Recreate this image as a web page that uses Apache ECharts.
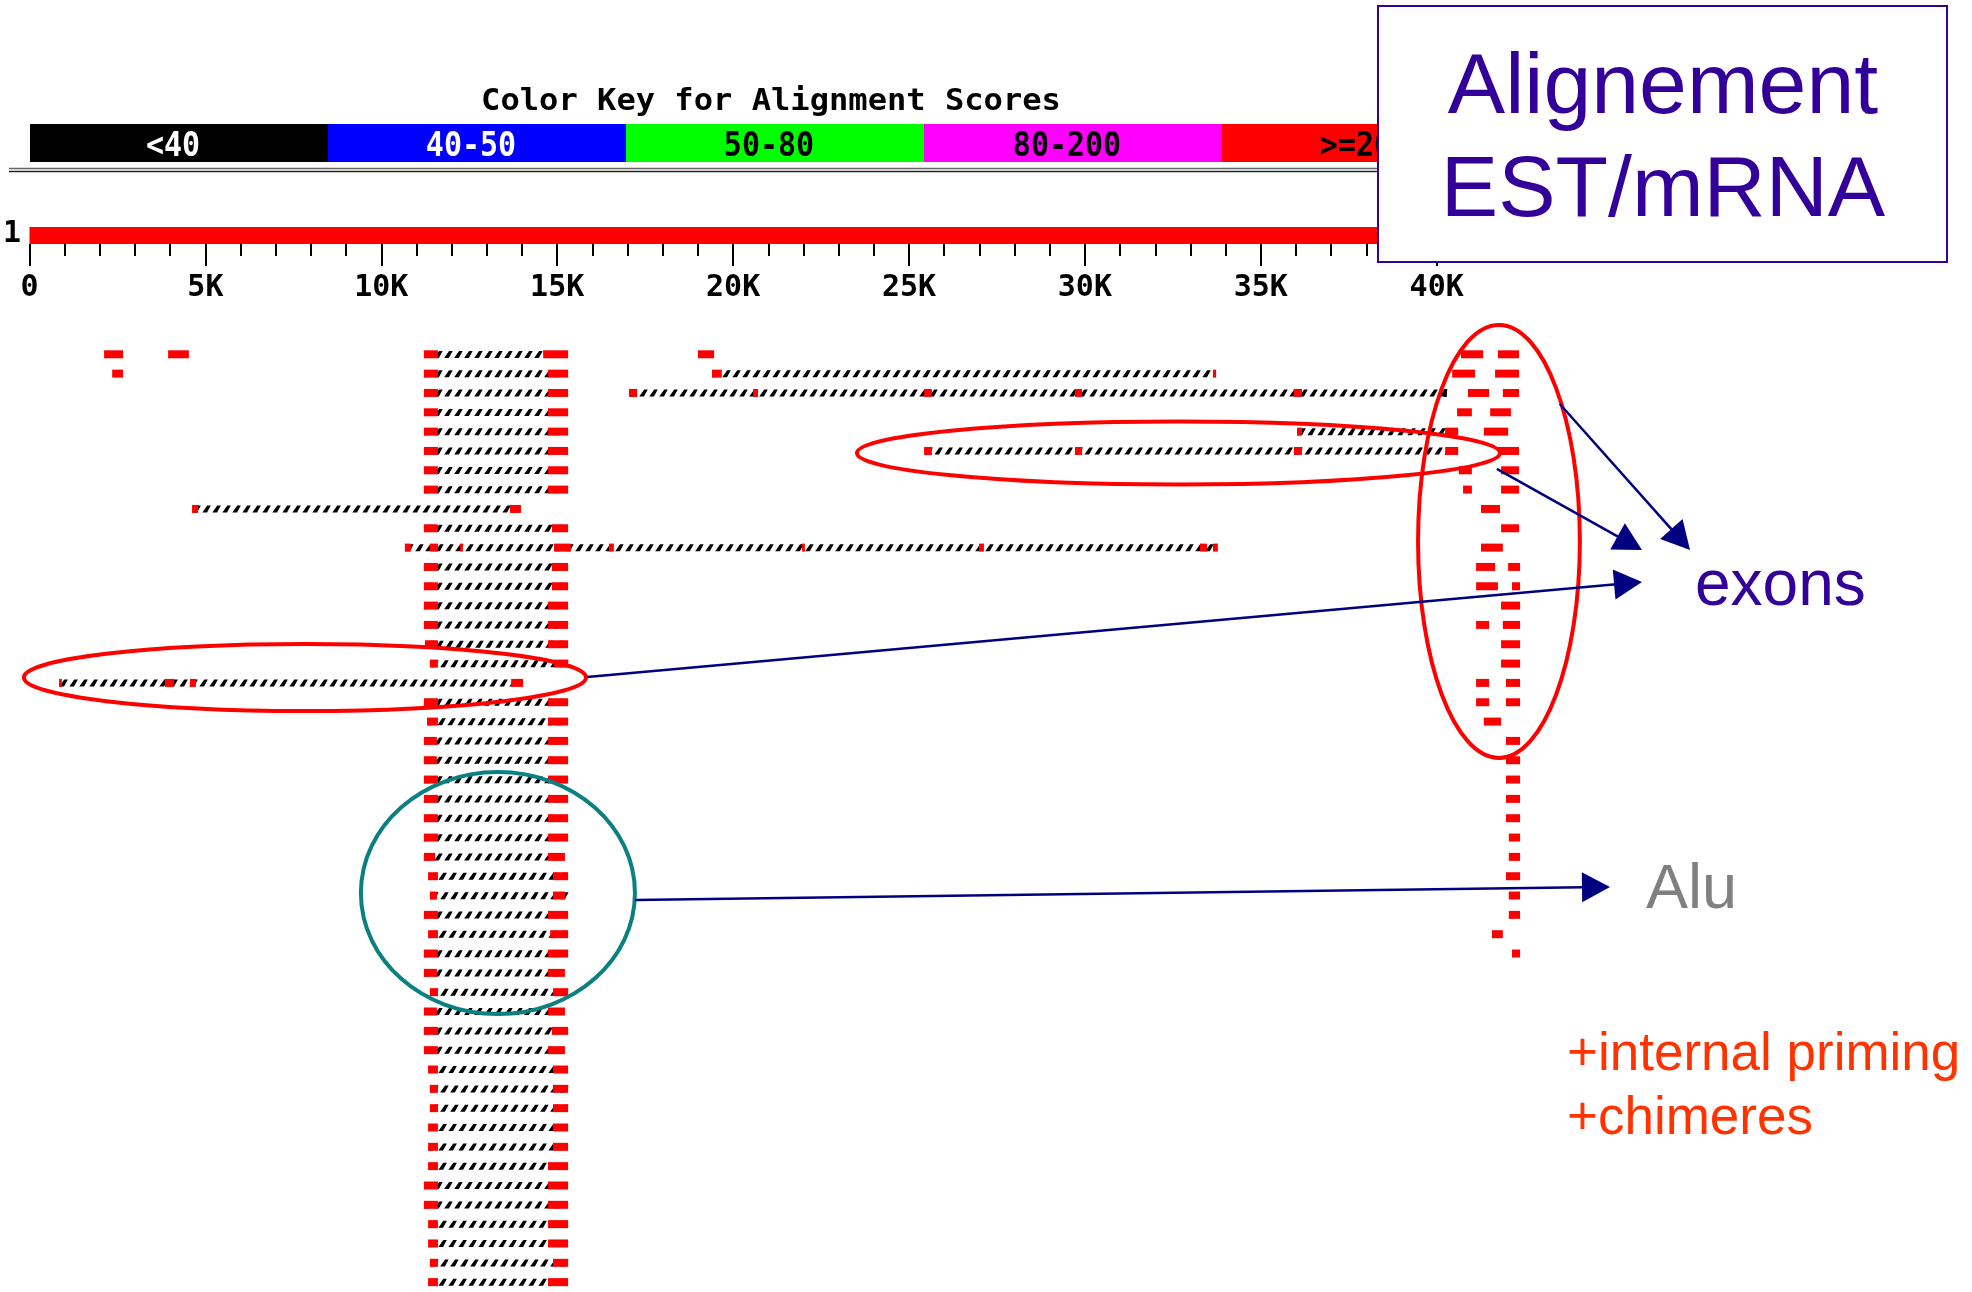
<!DOCTYPE html>
<html>
<head>
<meta charset="utf-8">
<title>Alignement EST/mRNA</title>
<script src="https://cdn.jsdelivr.net/npm/echarts@6/dist/echarts.min.js"></script>
<style>
  html, body { margin: 0; padding: 0; background: #ffffff; }
  #chart { width: 1972px; height: 1292px; }
</style>
</head>
<body>
<div id="chart"></div>
<script>
// ---------------- data ----------------
// Score classes of the colour key (index is used by the blocks below)
const keyLabels = ['<40', '40-50', '50-80', '80-200', '>=200'];
const keyColors = ['#000000', '#0000ff', '#00ff00', '#ff00ff', '#ff0000'];
const keyTextColors = ['#ffffff', '#ffffff', '#000000', '#000000', '#000000'];

// Query sequence (bp) and ruler
const queryLength = 43000;
const rulerMax = 40000;
const rulerStep = 5000;

// Hits: [row, [[start, end, scoreClass], ...]]  (scoreClass defaults to 4 : >=200)
const isolatedHits = [
  [0, [[2120, 2660]]], [0, [[3940, 4530]]], [0, [[19000, 19460]]],
  [1, [[2350, 2660]]]
];

const splicedHits = [
  [1, [[19400, 19680], [33640, 33730]]],
  [2, [[17040, 17270], [20570, 20710], [25430, 25650], [29720, 29920], [35940, 36170], [40200, 40290, 0]]],
  [4, [[36030, 36170], [40240, 40610]]],
  [5, [[25430, 25650], [29720, 29920], [35940, 36170], [40240, 40610]]],
  [8, [[4620, 4790], [13660, 13970]]],
  [10, [[10670, 10840], [11380, 11610], [12240, 12320], [14910, 15390], [16470, 16610],
        [21960, 22040], [26990, 27130], [33270, 33470], [33640, 33780]]],
  [17, [[840, 920], [3850, 4110], [4560, 4730], [13690, 14030]]]
];

const aluHits = [
  [0, [[11210, 11610], [14600, 15310]]],
  [1, [[11210, 11610], [14740, 15310]]],
  [2, [[11210, 11610], [14740, 15310]]],
  [3, [[11210, 11610], [14740, 15310]]],
  [4, [[11210, 11610], [14740, 15310]]],
  [5, [[11210, 11610], [14740, 15310]]],
  [6, [[11210, 11610], [14740, 15310]]],
  [7, [[11210, 11610], [14740, 15310]]],
  [9, [[11210, 11610], [14850, 15310]]],
  [11, [[11210, 11610], [14850, 15310]]],
  [12, [[11210, 11610], [14850, 15310]]],
  [13, [[11210, 11610], [14740, 15310]]],
  [14, [[11210, 11610], [14740, 15310]]],
  [15, [[11240, 11610], [14740, 15310]]],
  [16, [[11380, 11610], [14910, 15310]]],
  [18, [[11210, 11610], [14740, 15310]]],
  [19, [[11300, 11610], [14740, 15310]]],
  [20, [[11210, 11580], [14740, 15310]]],
  [21, [[11210, 11580], [14740, 15310]]],
  [22, [[11210, 11610], [14740, 15310]]],
  [23, [[11210, 11610], [14740, 15310]]],
  [24, [[11210, 11610], [14740, 15310]]],
  [25, [[11210, 11610], [14740, 15310]]],
  [26, [[11210, 11530], [14740, 15220]]],
  [27, [[11330, 11610], [14880, 15310]]],
  [28, [[11380, 11580], [14880, 15220]]],
  [29, [[11210, 11610], [14740, 15310]]],
  [30, [[11330, 11610], [14800, 15310]]],
  [31, [[11210, 11610], [14740, 15310]]],
  [32, [[11210, 11580], [14740, 15220]]],
  [33, [[11380, 11610], [14880, 15310]]],
  [34, [[11210, 11580], [14740, 15220]]],
  [35, [[11210, 11610], [14850, 15310]]],
  [36, [[11210, 11610], [14740, 15220]]],
  [37, [[11330, 11610], [14880, 15310]]],
  [38, [[11380, 11610], [14880, 15310]]],
  [39, [[11380, 11610], [14880, 15310]]],
  [40, [[11330, 11610], [14880, 15310]]],
  [41, [[11330, 11610], [14880, 15310]]],
  [42, [[11330, 11610], [14740, 15310]]],
  [43, [[11210, 11610], [14740, 15310]]],
  [44, [[11210, 11610], [14740, 15310]]],
  [45, [[11330, 11610], [14740, 15310]]],
  [46, [[11330, 11610], [14740, 15310]]],
  [47, [[11380, 11610], [14880, 15310]]],
  [48, [[11330, 11610], [14740, 15310]]]
];

const exonHits = [
  [0, [[40690, 41320]]], [0, [[41740, 42340]]],
  [1, [[40440, 41090]]], [1, [[41660, 42340]]],
  [2, [[40890, 41490]]], [2, [[41880, 42340]]],
  [3, [[40580, 41000]]], [3, [[41520, 42110]]],
  [4, [[41340, 42030]]],
  [5, [[41740, 42340]]],
  [6, [[40630, 41000]]], [6, [[41830, 42340]]],
  [7, [[40750, 41000]]], [7, [[41830, 42340]]],
  [8, [[41260, 41800]]],
  [9, [[41830, 42340]]],
  [10, [[41260, 41880]]],
  [11, [[41120, 41660]]], [11, [[42030, 42370]]],
  [12, [[41120, 41740]]], [12, [[42140, 42370]]],
  [13, [[41830, 42370]]],
  [14, [[41120, 41490]]], [14, [[41880, 42370]]],
  [15, [[41830, 42370]]],
  [16, [[41830, 42370]]],
  [17, [[41120, 41490]]], [17, [[41970, 42370]]],
  [18, [[41120, 41490]]], [18, [[41970, 42370]]],
  [19, [[41340, 41830]]],
  [20, [[41970, 42370]]], [21, [[41970, 42370]]], [22, [[41970, 42370]]],
  [23, [[41970, 42370]]], [24, [[41970, 42370]]],
  [25, [[42050, 42370]]], [26, [[42050, 42370]]],
  [27, [[41970, 42370]]],
  [28, [[42050, 42370]]], [29, [[42050, 42370]]],
  [30, [[41570, 41880]]],
  [31, [[42140, 42370]]]
];

const rowCount = 49;

// ---------------- layout ----------------
const PX_PER_BP = 0.03518;
const AXIS_LEFT = 29.5;
const ROW_TOP = 354.3;
const ROW_STEP = 19.33;
const rowsMax = 50000;

const monoFont = '"DejaVu Sans Mono", monospace';
const sansFont = '"Liberation Sans", Arial, sans-serif';
const INDIGO = '#330099';
const NAVY = '#000080';

const allHits = [].concat(isolatedHits, splicedHits, aluHits, exonHits);

function renderHit(params, api) {
  const hit = allHits[params.dataIndex];
  const row = hit[0];
  const blocks = hit[1];
  const y = api.coord([0, row])[1];
  const children = [];
  if (blocks.length > 1) {
    // connector between HSPs of one subject: a run of small slashes
    const xa = api.coord([blocks[0][0], row])[0];
    const xb = api.coord([blocks[blocks.length - 1][1], row])[0];
    let d = '';
    for (let x = xa; x < xb - 5; x += 10) {
      d += 'M' + (x + 0.3) + ' ' + (y + 3.6) +
           'L' + (x + 5) + ' ' + (y + 3.6) +
           'L' + (x + 8.8) + ' ' + (y - 3.4) +
           'L' + (x + 5.2) + ' ' + (y - 3.4) + 'Z';
    }
    children.push({ type: 'path', shape: { pathData: d }, style: { fill: '#000000' } });
  }
  blocks.forEach(function (b) {
    const a = api.coord([b[0], row])[0];
    const c = api.coord([b[1], row])[0];
    const cls = b.length > 2 ? b[2] : 4;
    children.push({
      type: 'rect',
      shape: { x: a, y: y - 4, width: Math.max(c - a, 2), height: 8 },
      style: { fill: keyColors[cls] }
    });
  });
  return { type: 'group', children: children };
}

const chart = echarts.init(document.getElementById('chart'), null, { renderer: 'canvas' });

// colour key and header drawn as graphic elements
const KEY_X = 30, KEY_W = 298, KEY_Y = 124, KEY_H = 38;
const headerGraphics = [
  {
    type: 'text', x: 771, y: 102, scaleX: 1.07, z: 10,
    style: {
      text: 'Color Key for Alignment Scores', fill: '#000000',
      font: 'bold 30px ' + monoFont,
      align: 'center', verticalAlign: 'middle', textAlign: 'center', textVerticalAlign: 'middle'
    }
  },
  { type: 'line', z: 10, shape: { x1: 9, y1: 168.5, x2: 1500, y2: 168.5 }, style: { stroke: '#666666', lineWidth: 1.5 } },
  { type: 'line', z: 10, shape: { x1: 9, y1: 171.5, x2: 1500, y2: 171.5 }, style: { stroke: '#222222', lineWidth: 1.5 } },
  {
    type: 'text', x: 12, y: 234, z: 10,
    style: {
      text: '1', fill: '#000000', font: 'bold 30px ' + monoFont,
      align: 'center', verticalAlign: 'middle', textAlign: 'center', textVerticalAlign: 'middle'
    }
  }
];
keyLabels.forEach(function (label, i) {
  headerGraphics.push({
    type: 'rect', z: 10,
    shape: { x: KEY_X + i * KEY_W, y: KEY_Y, width: KEY_W, height: KEY_H },
    style: { fill: keyColors[i] }
  });
  headerGraphics.push({
    type: 'text', z: 11, x: KEY_X + i * KEY_W + KEY_W / 2 - 6, y: KEY_Y + KEY_H / 2 + 4, scaleY: 1.1,
    style: {
      text: label, fill: keyTextColors[i], font: 'bold 30px ' + monoFont,
      align: 'center', verticalAlign: 'middle', textAlign: 'center', textVerticalAlign: 'middle'
    }
  });
});

chart.setOption({
  animation: false,
  backgroundColor: '#ffffff',
  grid: [
    { left: AXIS_LEFT, top: 227, width: rulerMax * PX_PER_BP, height: 17, outerBoundsMode: 'none', containLabel: false },
    { left: AXIS_LEFT, top: ROW_TOP, width: rowsMax * PX_PER_BP, height: (rowCount - 1) * ROW_STEP, outerBoundsMode: 'none', containLabel: false }
  ],
  xAxis: [
    {
      gridIndex: 0, type: 'value', min: 0, max: rulerMax, interval: rulerStep, position: 'bottom',
      axisLine: { show: false },
      axisTick: { show: true, length: 22, lineStyle: { color: '#000000', width: 2 } },
      minorTick: { show: true, splitNumber: 5, length: 12, lineStyle: { color: '#000000', width: 2 } },
      splitLine: { show: false },
      minorSplitLine: { show: false },
      axisLabel: {
        show: true, margin: 29, color: '#000000',
        fontFamily: monoFont, fontWeight: 'bold', fontSize: 30,
        showMinLabel: true, showMaxLabel: true,
        formatter: function (v) { return v === 0 ? '0' : (v / 1000) + 'K'; }
      }
    },
    {
      gridIndex: 1, type: 'value', min: 0, max: rowsMax, show: false,
      splitLine: { show: false }
    }
  ],
  yAxis: [
    { gridIndex: 0, type: 'value', min: 0, max: 1, show: false, splitLine: { show: false } },
    { gridIndex: 1, type: 'value', min: 0, max: rowCount - 1, inverse: true, show: false, splitLine: { show: false } }
  ],
  series: [
    {
      // query sequence bar
      type: 'custom', xAxisIndex: 0, yAxisIndex: 0, clip: false,
      data: [[0, 0, queryLength]],
      encode: { x: [0, 2], y: 1 },
      renderItem: function (params, api) {
        const p0 = api.coord([0, 1]);
        const p1 = api.coord([api.value(2), 0]);
        return { type: 'rect', shape: { x: p0[0], y: p0[1], width: p1[0] - p0[0], height: p1[1] - p0[1] }, style: { fill: keyColors[4] } };
      }
    },
    {
      // database hits
      type: 'custom', xAxisIndex: 1, yAxisIndex: 1, clip: false,
      data: allHits.map(function (h) { return [h[1][0][0], h[0]]; }),
      encode: { x: 0, y: 1 },
      renderItem: renderHit
    }
  ],
  graphic: { elements: headerGraphics }
});

// ---------------- callouts ----------------
// ellipses given in data space: [bpFrom, bpTo, rowFrom, rowTo, colour]
const calloutEllipses = [
  [23520, 41800, 3.48, 6.74, '#ff0000'],
  [-160, 15820, 14.99, 18.45, '#ff0000'],
  [39470, 44070, -1.52, 20.88, '#ff0000'],
  [9420, 17210, 21.61, 34.13, '#0a8080']
];
// arrows: start in data space [bp, row], tip in page pixels
const calloutArrows = [
  [[43500, 2.57], [1690, 550]],
  [[41710, 5.93], [1642, 550]],
  [[15850, 16.69], [1642, 582]],
  [[17210, 28.23], [1610, 887]]
];

function toPx(bp, row) {
  return chart.convertToPixel({ xAxisIndex: 1, yAxisIndex: 1 }, [bp, row]);
}

const callouts = [];
calloutEllipses.forEach(function (e) {
  const a = toPx(e[0], e[2]);
  const b = toPx(e[1], e[3]);
  callouts.push({
    type: 'ellipse', z: 100,
    shape: { cx: (a[0] + b[0]) / 2, cy: (a[1] + b[1]) / 2, rx: Math.abs(b[0] - a[0]) / 2, ry: Math.abs(b[1] - a[1]) / 2 },
    style: { fill: 'none', stroke: e[4], lineWidth: 4 }
  });
});
calloutArrows.forEach(function (ar) {
  const s = toPx(ar[0][0], ar[0][1]);
  const t = ar[1];
  const dx = t[0] - s[0], dy = t[1] - s[1];
  const len = Math.sqrt(dx * dx + dy * dy);
  const ux = dx / len, uy = dy / len;
  const headLen = 28, headHalf = 15;
  const bx = t[0] - ux * headLen, by = t[1] - uy * headLen;
  callouts.push({
    type: 'line', z: 100,
    shape: { x1: s[0], y1: s[1], x2: bx + ux * 2, y2: by + uy * 2 },
    style: { stroke: NAVY, lineWidth: 2.5 }
  });
  callouts.push({
    type: 'polygon', z: 100,
    shape: { points: [[t[0], t[1]], [bx - uy * headHalf, by + ux * headHalf], [bx + uy * headHalf, by - ux * headHalf]] },
    style: { fill: NAVY }
  });
});

function label(text, x, y, size, color, align) {
  return {
    type: 'text', x: x, y: y, z: 110,
    style: {
      text: text, fill: color, font: size + 'px ' + sansFont,
      align: align, verticalAlign: 'middle', textAlign: align, textVerticalAlign: 'middle'
    }
  };
}

// title box
callouts.push({
  type: 'rect', z: 105,
  shape: { x: 1378, y: 6, width: 569, height: 256 },
  style: { fill: '#ffffff', stroke: INDIGO, lineWidth: 2 }
});
callouts.push(label('Alignement', 1663, 89, 86, INDIGO, 'center'));
callouts.push(label('EST/mRNA', 1663, 192, 86, INDIGO, 'center'));
callouts.push(label('exons', 1695, 587, 64, INDIGO, 'left'));
callouts.push(label('Alu', 1646, 891, 63, '#808080', 'left'));
callouts.push(label('+internal priming', 1567, 1055, 53, '#ff3300', 'left'));
callouts.push(label('+chimeres', 1567, 1119, 53, '#ff3300', 'left'));

chart.setOption({ graphic: { elements: headerGraphics.concat(callouts) } }, { replaceMerge: ['graphic'] });
</script>
</body>
</html>
